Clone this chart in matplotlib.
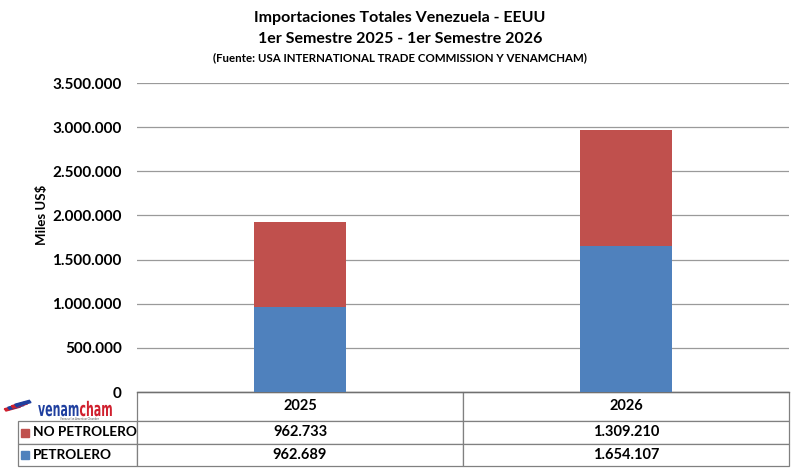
import matplotlib.pyplot as plt
from matplotlib.patches import Rectangle, PathPatch
from matplotlib.textpath import TextPath
from matplotlib.font_manager import FontProperties
from matplotlib.transforms import Affine2D, IdentityTransform
from matplotlib.ticker import FuncFormatter

plt.rcParams['font.family'] = ['Lato', 'DejaVu Sans']

# data
years = ['2025', '2026']
no_petrolero = [962733, 1309210]
petrolero = [962689, 1654107]
series_names = ['NO PETROLERO', 'PETROLERO']
yticks = [0, 500000, 1000000, 1500000, 2000000, 2500000, 3000000, 3500000]

red = '#C0504D'
blue = '#4F81BD'
grid_col = '#9a9a9a'


def miles(v):
    return f'{int(v):,}'.replace(',', '.')


fig = plt.figure(figsize=(8, 4.72), dpi=100)
W, H = 800, 472
# plot area in pixels: x 137..789, y 83..392
ax = fig.add_axes([137 / W, 1 - 392 / H, (789 - 137) / W, (392 - 83) / H])

x = range(len(years))
ax.bar(x, petrolero, width=0.285, color=blue, zorder=3)
ax.bar(x, no_petrolero, width=0.285, bottom=petrolero, color=red, zorder=3)

ax.set_xlim(-0.5, 1.5)
ax.set_ylim(0, 3500000)
ax.set_yticks(yticks)
ax.yaxis.set_major_formatter(FuncFormatter(lambda v, p: miles(v)))
ax.tick_params(axis='y', length=0, pad=11, labelsize=11)
for t in ax.get_yticklabels():
    t.set_fontweight('bold')
ax.set_xticks([])
ax.grid(axis='y', color=grid_col, linewidth=0.9, zorder=0)
for s in ['left', 'right', 'top']:
    ax.spines[s].set_visible(False)
ax.spines['bottom'].set_color('#707070')
ax.spines['bottom'].set_linewidth(1.0)

# data table below the plot (first column holds the series names, drawn separately)
cell_text = [[''] + [miles(v) for v in no_petrolero],
             [''] + [miles(v) for v in petrolero]]
tab_h = (466 - 392) / (392 - 83)
tab = ax.table(cellText=cell_text, colLabels=[''] + years, cellLoc='center',
               bbox=[(18 - 137) / (789 - 137), -tab_h, (789 - 18) / (789 - 137), tab_h])
tab.auto_set_font_size(False)
for (r, c), cell in tab.get_celld().items():
    cell.set_edgecolor('#808080')
    cell.set_linewidth(0.9)
    cell.get_text().set_fontsize(10.5)
    cell.get_text().set_fontweight('bold')
    cell.set_width(119 if c == 0 else 326)
    cell.set_height(29 if r == 0 else 22.5)
    if c == 0 and r == 0:
        cell.visible_edges = ''

# row labels with colour keys
for i, (name, col) in enumerate(zip(series_names, [red, blue])):
    yc = 432.5 + i * 22.5
    ax.add_patch(Rectangle(((21 - 137) / 652, (392 - yc - 4) / 309), 8 / 652, 8 / 309,
                           transform=ax.transAxes, color=col, clip_on=False))
    fig.text(33 / W, 1 - yc / H, name, ha='left', va='center', fontsize=9.8,
             fontweight='bold')

# titles
fig.text(0.5, 1 - 18 / H, 'Importaciones Totales Venezuela - EEUU', ha='center', va='center',
         fontsize=11.5, fontweight='bold')
fig.text(0.5, 1 - 39 / H, '1er Semestre 2025 - 1er Semestre 2026', ha='center', va='center',
         fontsize=11.5, fontweight='bold')
fig.text(0.5, 1 - 58 / H, '(Fuente: USA INTERNATIONAL TRADE COMMISSION Y VENAMCHAM)',
         ha='center', va='center', fontsize=8.3, fontweight='bold')
fig.text(42 / W, 1 - 215 / H, 'Miles US$', rotation=90, ha='center', va='center',
         fontsize=9.5, fontweight='bold')

# logo: condensed wordmark plus a small swirl
fp = FontProperties(family='DejaVu Sans', weight='bold')
x0 = 38
for word, col in [('venam', '#1f3f9f'), ('cham', '#d0202e')]:
    tp = TextPath((0, 0), word, size=20, prop=fp)
    wdt = tp.get_extents().x1 * 0.55
    tr = Affine2D().scale(0.55, 1.0).translate(x0, H - 416)
    fig.patches.append(PathPatch(tr.transform_path(tp), transform=IdentityTransform(),
                                 facecolor=col, edgecolor='none'))
    x0 += wdt + 1
for i, col in enumerate(['#d0202e', '#1f3f9f', '#d0202e', '#1f3f9f']):
    fig.patches.append(Rectangle(((6 + i * 3.5) / W, 1 - (411 - i * 1.5) / H), 16 / W, 2.4 / H,
                                 angle=25, transform=fig.transFigure, color=col))
fig.text(60 / W, 1 - 420 / H, 'Venezuelan American Chamber', fontsize=2, color='#555555')

fig.savefig('out.png', dpi=100)
